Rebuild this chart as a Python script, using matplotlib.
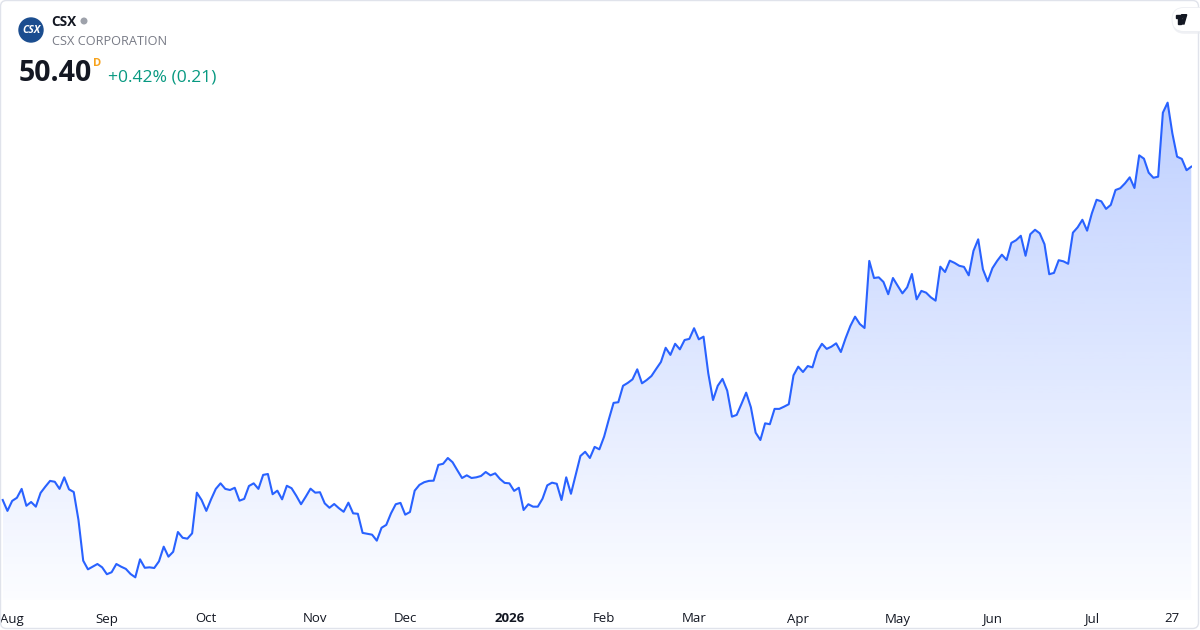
import numpy as np
import matplotlib
matplotlib.use("Agg")
from matplotlib import pyplot as plt
from matplotlib.patches import Circle, FancyBboxPatch, Polygon

plt.rcParams['font.family'] = ['Open Sans', 'DejaVu Sans']

# daily closes (Aug 2025 -> Jul 27 2026)
prices = [
    35.40, 34.91, 35.36, 35.50, 35.90, 35.14, 35.31, 35.10, 35.72, 36.00,
    36.26, 36.22, 35.90, 36.42, 35.88, 35.76, 34.50, 32.67, 32.28, 32.40,
    32.52, 32.37, 32.06, 32.15, 32.52, 32.40, 32.30, 32.07, 31.92, 32.73,
    32.35, 32.37, 32.34, 32.64, 33.30, 32.85, 33.07, 33.96, 33.70, 33.66,
    33.90, 35.73, 35.40, 34.91, 35.43, 35.90, 36.15, 35.90, 35.85, 35.95,
    35.37, 35.45, 36.03, 36.15, 35.90, 36.53, 36.57, 35.66, 35.82, 35.43,
    36.04, 35.93, 35.59, 35.21, 35.55, 35.91, 35.73, 35.75, 35.25, 35.05,
    35.22, 35.03, 34.87, 35.28, 34.80, 34.78, 33.92, 33.88, 33.84, 33.57,
    34.15, 34.28, 34.80, 35.21, 35.27, 34.74, 34.86, 35.82, 36.08, 36.20,
    36.26, 36.27, 36.98, 37.03, 37.29, 37.10, 36.74, 36.39, 36.51, 36.39,
    36.42, 36.48, 36.66, 36.51, 36.60, 36.35, 36.17, 36.15, 35.81, 35.95,
    34.95, 35.21, 35.10, 35.10, 35.46, 36.06, 36.18, 36.13, 35.40, 36.42,
    35.68, 36.53, 37.38, 37.57, 37.29, 37.79, 37.68, 38.25, 39.03, 39.77,
    39.80, 40.54, 40.67, 40.83, 41.28, 40.65, 40.80, 40.98, 41.30, 41.61,
    42.25, 41.93, 42.43, 42.18, 42.60, 42.65, 43.13, 42.63, 42.75, 41.10,
    39.90, 40.54, 40.85, 40.32, 39.15, 39.23, 39.72, 40.23, 39.57, 38.43,
    38.10, 38.85, 38.81, 39.50, 39.50, 39.60, 39.71, 41.01, 41.40, 41.16,
    41.43, 41.37, 42.07, 42.43, 42.20, 42.30, 42.45, 42.06, 42.68, 43.23,
    43.65, 43.32, 43.14, 46.16, 45.39, 45.42, 45.21, 44.66, 45.39, 45.04,
    44.70, 44.97, 45.57, 44.43, 44.81, 44.73, 44.52, 44.37, 45.90, 45.66,
    46.17, 46.07, 45.94, 45.89, 45.51, 46.61, 47.13, 45.78, 45.24, 45.83,
    46.16, 46.44, 46.20, 46.97, 47.09, 47.29, 46.39, 47.36, 47.56, 47.40,
    46.91, 45.56, 45.62, 46.19, 46.14, 46.03, 47.43, 47.67, 48.01, 47.52,
    48.30, 48.91, 48.84, 48.50, 48.68, 49.35, 49.43, 49.65, 49.92, 49.44,
    50.91, 50.76, 50.13, 49.90, 49.95, 52.83, 53.28, 51.90, 50.85, 50.75,
    50.24, 50.40,
]

# first trading day of each month (index into prices) and its label
tick_idx = [2, 22, 43, 66, 85, 107, 127, 146, 168, 189, 209, 230, 247]
tick_labels = ['Aug', 'Sep', 'Oct', 'Nov', 'Dec', '2026', 'Feb', 'Mar',
               'Apr', 'May', 'Jun', 'Jul', '27']

ticker = 'CSX'
company = 'CSX CORPORATION'
last_price = '50.40'
change_txt = '+0.42% (0.21)'

LINE = '#2962ff'
TEXT = '#131722'

W, H = 1200, 630
fig = plt.figure(figsize=(W / 100, H / 100), dpi=100)
fig.patch.set_facecolor('white')

# main chart area: pixels x 1..1192, y 0..600
ax = fig.add_axes([1 / W, 30 / H, 1191 / W, 600 / H])
x = np.arange(len(prices))
y = np.array(prices)
ymin, ymax = 30.90, 57.90
ax.set_xlim(-0.36, len(prices) - 1 + 0.15)
ax.set_ylim(ymin, ymax)

# gradient fill under the line
grad = np.linspace(0, 1, 256).reshape(-1, 1)
top_a, bot_a = 0.30, 0.015
rgba = np.zeros((256, 1, 4))
rgba[..., 0] = 41 / 255
rgba[..., 1] = 98 / 255
rgba[..., 2] = 1.0
rgba[..., 3] = bot_a + (top_a - bot_a) * grad
y_top = y.max()
img = ax.imshow(rgba, aspect='auto', origin='lower',
                extent=[x[0], x[-1], ymin, y_top], zorder=1)
verts = np.vstack([np.column_stack([x, y]), [[x[-1], ymin], [x[0], ymin]]])
clip = Polygon(verts, closed=True, transform=ax.transData, facecolor='none', edgecolor='none')
ax.add_patch(clip)
img.set_clip_path(clip)

ax.plot(x, y, color=LINE, lw=1.5, solid_joinstyle='round', zorder=3)

for s in ax.spines.values():
    s.set_visible(False)
ax.set_yticks([])
ax.set_xticks(tick_idx)
ax.set_xticklabels(tick_labels)
ax.tick_params(axis='x', length=0, pad=9, labelsize=9.5, labelcolor=TEXT)
for lab in ax.get_xticklabels():
    if lab.get_text() == '2026':
        lab.set_fontweight('bold')
ax.set_facecolor('none')

# overlay in pixel coordinates for header, logo and frame
ov = fig.add_axes([0, 0, 1, 1], zorder=10)
ov.set_xlim(0, W)
ov.set_ylim(H, 0)
ov.axis('off')
ov.patch.set_alpha(0)

ov.add_patch(FancyBboxPatch((0.5, 0.5), W - 2, H - 2, boxstyle='round,pad=0,rounding_size=6',
                            facecolor='none', edgecolor='#e0e3eb', lw=1))

ov.add_patch(Circle((31, 30), 12, color='#1b4d8f'))
ov.text(31, 30.5, 'CSX', color='white', fontsize=7.5, fontweight='bold',
        ha='center', va='center', style='italic')
ov.text(51, 26.5, ticker, color=TEXT, fontsize=9.8, fontweight='bold', va='baseline')
ov.add_patch(Circle((84, 21), 2.8, color='#9ea2ab'))
ov.text(51.5, 45, company, color='#787b86', fontsize=9.2, va='baseline')
ov.text(18.5, 81, last_price, color=TEXT, fontsize=20.5, fontweight='bold', va='baseline')
ov.text(93, 66, 'D', color='#f7a21b', fontsize=8, fontweight='bold', va='baseline')
ov.text(108, 81, change_txt, color='#089981', fontsize=12.6, va='baseline')

# TradingView badge at top right
ov.add_patch(FancyBboxPatch((1172.5, 8.8), 40, 25, boxstyle='round,pad=0,rounding_size=12',
                            facecolor='#e9ebf0', edgecolor='none', alpha=0.7))
ov.add_patch(FancyBboxPatch((1172, 7.5), 40, 24, boxstyle='round,pad=0,rounding_size=12',
                            facecolor='white', edgecolor='#eceef2', lw=0.6))
ov.add_patch(Polygon([[1176, 14.7], [1180.7, 14.7], [1180.7, 24], [1178.3, 24],
                      [1178.3, 17.7], [1176, 17.7]], closed=True, color=TEXT))
ov.add_patch(Polygon([[1181.5, 14.7], [1186.7, 14.7], [1184, 24], [1181.3, 24],
                      [1183.3, 17.7], [1181.5, 17.7]], closed=True, color=TEXT))

fig.savefig('out.png', dpi=100, facecolor='white')
